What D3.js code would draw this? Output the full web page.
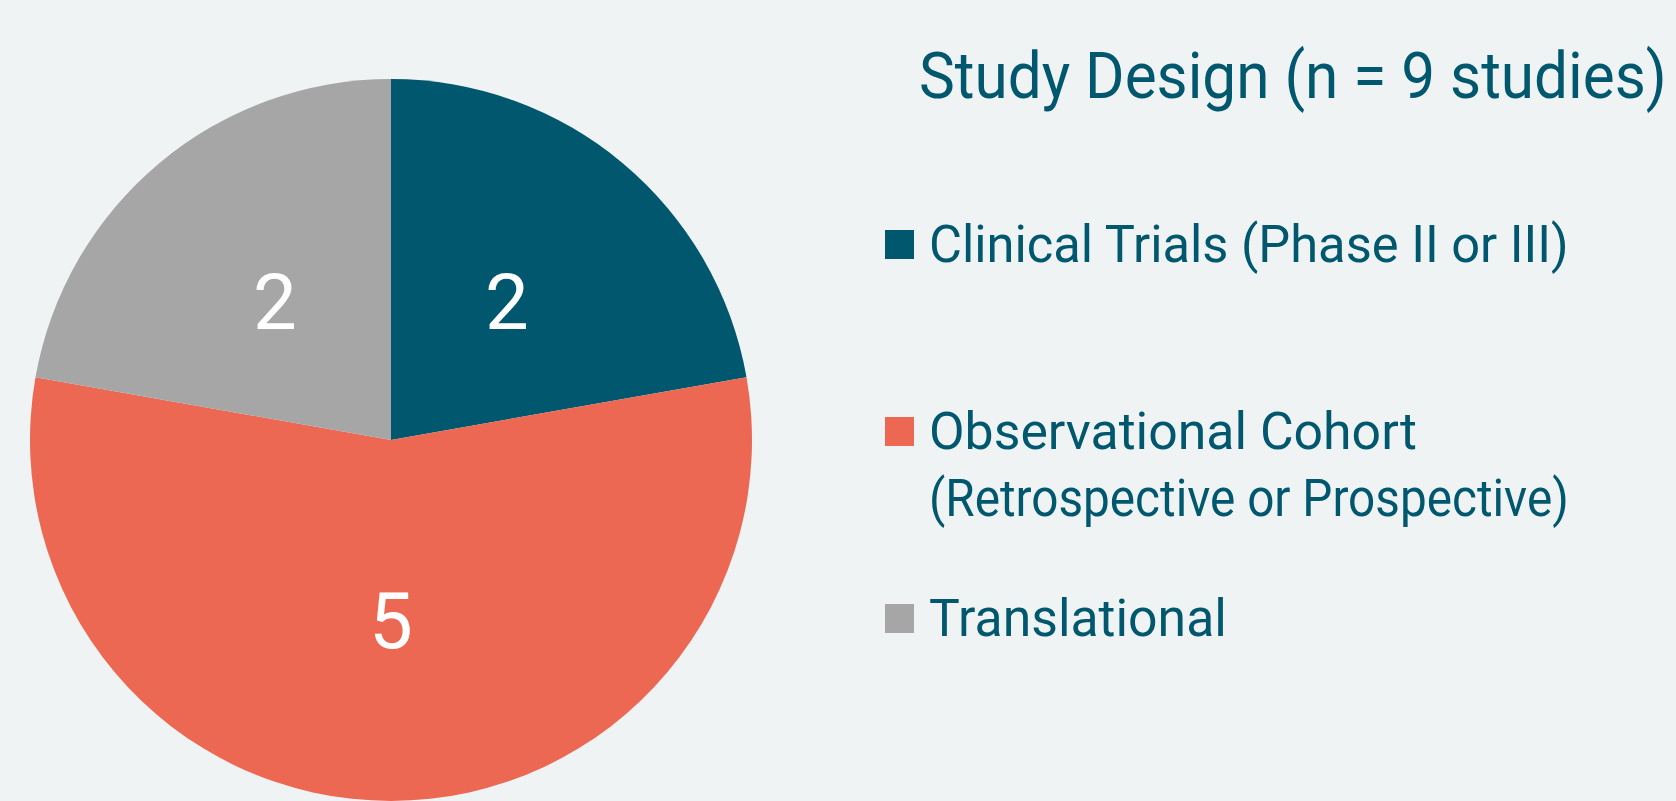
<!doctype html>
<meta charset="utf-8">
<title>Study Design</title>
<style>
body { margin: 0; background: #eff3f4; }
svg { font-family: Roboto, "Noto Sans", sans-serif; display: block; }
</style>
<script src="https://cdn.jsdelivr.net/npm/d3@7"></script>
<body>
<svg id="chart" width="1676" height="801"></svg>
<script>
// data
var categories = ["Clinical Trials (Phase II or III)", "Observational Cohort (Retrospective or Prospective)", "Translational"];
var values = [2, 5, 2];
var legendLines = [["Clinical Trials (Phase II or III)"], ["Observational Cohort", "(Retrospective or Prospective)"], ["Translational"]];
var colors = ["#01586e", "#ec6853", "#a6a6a6"];
var title = "Study Design (n = 9 studies)";

var svg = d3.select("#chart");
var cx = 391, cy = 440, r = 361;

var rows = categories.map(function(c, i) { return {name: c, value: values[i], lines: legendLines[i], color: colors[i]}; });

var pie = d3.pie().sort(null).value(function(d) { return d.value; });
var arc = d3.arc().innerRadius(0).outerRadius(r);
var labelArc = d3.arc().innerRadius(r * 0.5).outerRadius(r * 0.5);

var g = svg.append("g").attr("transform", "translate(" + cx + "," + cy + ")");
var arcs = pie(rows);

g.selectAll("path").data(arcs).enter().append("path")
  .attr("d", arc)
  .attr("fill", function(d) { return d.data.color; });

g.selectAll("text").data(arcs).enter().append("text")
  .attr("transform", function(d) { return "translate(" + labelArc.centroid(d) + ")"; })
  .attr("text-anchor", "middle")
  .attr("dy", "0.35em")
  .attr("fill", "#fff")
  .style("font-size", "78px")
  .text(function(d) { return d.data.value; });

// squeeze a text horizontally to a target width (reference font is narrower)
function fitWidth(sel, x, y, w) {
  var n = sel.node().getComputedTextLength();
  var k = Math.min(1, w / n);
  sel.attr("x", 0).attr("y", 0)
    .attr("transform", "translate(" + x + "," + y + ") scale(" + k + ",1)");
}

// title
var t = svg.append("text")
  .attr("fill", "#01586e")
  .style("font-size", "65px")
  .text(title);
fitWidth(t, 919, 98, 748);

// legend
var legendY = d3.scalePoint().domain(categories).range([262, 636]);
var lineWidths = [[640], [488, 640], [298]];

var items = svg.selectAll("g.legend").data(rows).enter().append("g")
  .attr("class", "legend")
  .attr("transform", function(d) { return "translate(885," + legendY(d.name) + ")"; });

items.append("rect")
  .attr("x", 0).attr("y", -32)
  .attr("width", 29).attr("height", 29)
  .attr("fill", function(d) { return d.color; });

items.each(function(d, i) {
  var el = d3.select(this);
  d.lines.forEach(function(line, j) {
    var lt = el.append("text")
      .attr("fill", "#01586e")
      .style("font-size", "52px")
      .text(line);
    fitWidth(lt, 44, j * 67, lineWidths[i][j]);
  });
});
</script>
</body>
